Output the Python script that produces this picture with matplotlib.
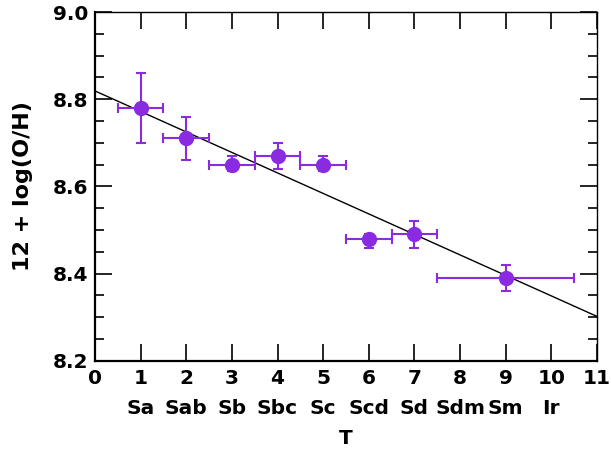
import numpy as np
import matplotlib.pyplot as plt

plt.rcParams['font.family'] = ['DejaVu Sans']
plt.rcParams['font.weight'] = 'bold'

# morphological type T and oxygen abundance
T = [1, 2, 3, 4, 5, 6, 7, 9]
oh = [8.78, 8.71, 8.65, 8.67, 8.65, 8.48, 8.49, 8.39]
oh_lo = [0.08, 0.05, 0.015, 0.03, 0.015, 0.02, 0.03, 0.03]
oh_hi = [0.08, 0.05, 0.02, 0.03, 0.02, 0.01, 0.03, 0.03]
t_lo = [0.5, 0.5, 0.5, 0.5, 0.5, 0.5, 0.5, 1.5]
t_hi = [0.5, 0.5, 0.5, 0.5, 0.5, 0.5, 0.5, 1.5]

type_pos = [1, 2, 3, 4, 5, 6, 7, 8, 9, 10]
type_names = ['Sa', 'Sab', 'Sb', 'Sbc', 'Sc', 'Scd', 'Sd', 'Sdm', 'Sm', 'Ir']

# linear fit
fit_a = 8.819
fit_b = -0.047

purple = '#8a2be2'
fs = 14.5

fig = plt.figure(figsize=(6.11, 4.5), dpi=100)
ax = fig.add_axes([0.1555, 0.198, 0.8216, 0.7753])

xx = np.array([0, 11])
ax.plot(xx, fit_a + fit_b * xx, color='black', lw=1.0, zorder=2)

ax.errorbar(T, oh, yerr=[oh_lo, oh_hi], xerr=[t_lo, t_hi], fmt='o',
            color=purple, ms=10, elinewidth=1.5, capsize=3.8, capthick=1.5,
            zorder=3)

ax.set_xlim(0, 11)
ax.set_ylim(8.2, 9.0)
ax.set_xticks(range(12))
ax.set_yticks([8.2, 8.4, 8.6, 8.8, 9.0])
ax.set_yticks(np.arange(8.2, 9.0, 0.05), minor=True)
ax.set_yticklabels(['8.2', '8.4', '8.6', '8.8', '9.0'])

ax.tick_params(axis='both', which='both', direction='in', top=True, right=True,
               labelsize=fs, width=1.2)
ax.tick_params(axis='both', which='major', length=12)
ax.tick_params(axis='y', which='minor', length=6.5)
ax.tick_params(axis='x', which='major', pad=6)
ax.tick_params(axis='y', which='major', pad=5)

ax.spines['left'].set_linewidth(1.6)
ax.spines['bottom'].set_linewidth(1.6)
ax.spines['top'].set_linewidth(1.0)
ax.spines['right'].set_linewidth(1.0)

for p, name in zip(type_pos, type_names):
    ax.annotate(name, xy=(p, 0), xycoords=('data', 'axes fraction'),
                xytext=(0, -34), textcoords='offset points',
                ha='center', va='center', fontsize=fs, fontweight='bold')

ax.set_xlabel('T', fontsize=fs, fontweight='bold', labelpad=29)
ax.set_ylabel('12 + log(O/H)', fontsize=16, fontweight='bold', labelpad=14)

fig.savefig('out.png', dpi=100)
